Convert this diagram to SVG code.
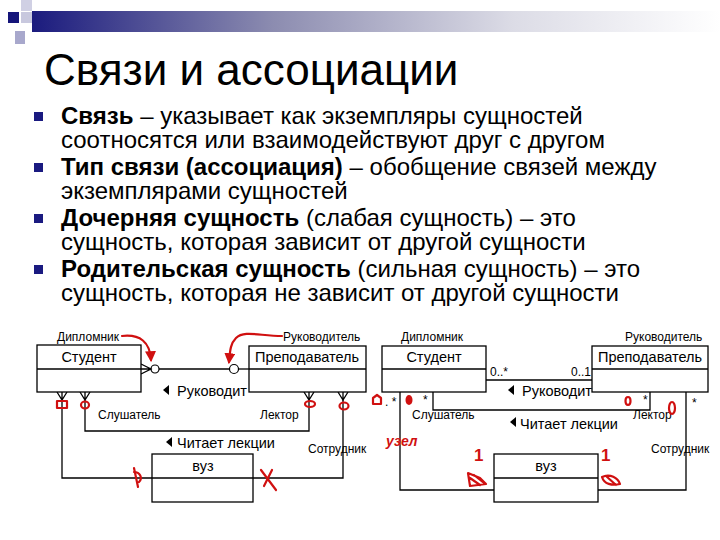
<svg xmlns="http://www.w3.org/2000/svg" width="720" height="540" viewBox="0 0 720 540">
<defs>
<linearGradient id="bar" x1="0" y1="0" x2="1" y2="0">
<stop offset="0" stop-color="#1b1b7e"/>
<stop offset="0.35" stop-color="#8c8cb0"/>
<stop offset="0.7" stop-color="#dcdce6"/>
<stop offset="1" stop-color="#ffffff"/>
</linearGradient>
<marker id="ra" viewBox="0 0 10 10" refX="8" refY="5" markerWidth="5" markerHeight="5" orient="auto"><path d="M0,0 L10,5 L0,10 z" fill="#d01010"/></marker>
</defs>
<style>
.t{font-family:"Liberation Sans",Arial,sans-serif;fill:#000}
.title{font-size:44px}
.b{font-size:24px}
.bb{font-weight:bold}
.n{font-size:14.5px}
.s{font-size:12px}
.box{fill:#fff;stroke:#000;stroke-width:1.3}
.ln{fill:none;stroke:#000;stroke-width:1.3}
.red{fill:none;stroke:#d01010;stroke-width:2.2;stroke-linecap:round;stroke-linejoin:round}
.rt{font-family:"Liberation Sans",Arial,sans-serif;fill:#d01010;font-weight:bold}
</style>
<rect width="720" height="540" fill="#fff"/>
<g id="decor">
<rect x="32" y="11" width="688" height="21" fill="url(#bar)"/>
<rect x="21" y="0" width="11" height="11" fill="#d0d0e4"/>
<rect x="8" y="12" width="11" height="11" fill="#15157a"/>
<rect x="21" y="12" width="11" height="11" fill="#c8c8de"/>
<rect x="15" y="31" width="10" height="13" fill="#a8a8cc"/>
</g>
<text class="t title" x="44" y="85">Связи и ассоциации</text>
<g id="bullets">
<rect x="34" y="112" width="9" height="9" fill="#1a1a80"/>
<rect x="34" y="163" width="9" height="9" fill="#1a1a80"/>
<rect x="34" y="214" width="9" height="9" fill="#1a1a80"/>
<rect x="34" y="265" width="9" height="9" fill="#1a1a80"/>
<text class="t b" x="61" y="124"><tspan class="bb">Связь</tspan> – указывает как экземпляры сущностей</text>
<text class="t b" x="61" y="148">соотносятся или взаимодействуют друг с другом</text>
<text class="t b" x="61" y="175"><tspan class="bb">Тип связи (ассоциация)</tspan> – обобщение связей между</text>
<text class="t b" x="61" y="199">экземплярами сущностей</text>
<text class="t b" x="61" y="226"><tspan class="bb">Дочерняя сущность</tspan> (слабая сущность) – это</text>
<text class="t b" x="61" y="250">сущность, которая зависит от другой сущности</text>
<text class="t b" x="61" y="277"><tspan class="bb">Родительская сущность</tspan> (сильная сущность) – это</text>
<text class="t b" x="61" y="301">сущность, которая не зависит от другой сущности</text>
</g>
<g id="left-connectors">
<path class="ln" d="M159,369 H229"/>
<path class="ln" d="M238,369 H249"/>
<circle cx="155" cy="369" r="4" fill="#fff" stroke="#000" stroke-width="1.2"/>
<circle cx="234" cy="369" r="4.5" fill="#fff" stroke="#000" stroke-width="1.2"/>
<path class="ln" d="M141,364 L151,369 L141,374 M141,369 H151"/>
<path class="ln" d="M62,400 V478 H152"/>
<path class="ln" d="M57,392 L62,400 L67,392 M62,392 V400"/>
<path class="ln" d="M85,400 V431 H309 V400"/>
<path class="ln" d="M80,392 L85,400 L90,392 M85,392 V400"/>
<path class="ln" d="M304,392 L309,400 L314,392 M309,392 V400"/>
<path class="ln" d="M343,400 V478 H253"/>
<path class="ln" d="M338,392 L343,400 L348,392 M343,392 V400"/>
<path d="M163,390 L169,385 V395 z" fill="#000"/>
<path d="M166,442 L172,437 V447 z" fill="#000"/>
</g>
<g id="l-student"><rect class="box" x="37" y="345" width="104" height="47"/><path class="ln" d="M37,369 H141"/><text class="t n" x="89" y="362" text-anchor="middle">Студент</text></g>
<g id="l-teacher"><rect class="box" x="249" y="346" width="117" height="46"/><path class="ln" d="M249,369 H366"/><text class="t n" x="307" y="362" text-anchor="middle">Преподаватель</text></g>
<g id="l-vuz"><rect class="box" x="152" y="454" width="101" height="48"/><path class="ln" d="M152,478 H253"/><text class="t n" x="203" y="471" text-anchor="middle">вуз</text></g>
<g id="left-labels">
<text class="t s" x="57" y="341">Дипломник</text>
<text class="t s" x="283" y="341">Руководитель</text>
<text class="t n" x="177" y="396">Руководит</text>
<text class="t s" x="98" y="419">Слушатель</text>
<text class="t s" x="260" y="419">Лектор</text>
<text class="t n" x="177" y="448">Читает лекции</text>
<text class="t s" x="308" y="453">Сотрудник</text>
</g>
<g id="left-red">
<path class="red" d="M122,336 C140,334 150,342 151,360" marker-end="url(#ra)"/>
<path class="red" d="M282,336 C260,336 244,330 236,338 C230,344 230,352 229,362" marker-end="url(#ra)"/>
<rect class="red" x="57" y="401" width="10" height="7"/>
<ellipse class="red" cx="85" cy="405" rx="4" ry="3.5"/>
<ellipse class="red" cx="310" cy="404" rx="5" ry="3"/>
<ellipse class="red" cx="344" cy="406" rx="4.5" ry="3.5"/>
<path class="red" d="M134,468 L138,487 M134,472 C140,472 143,478 139,482"/>
<path class="red" d="M261,470 L276,490 M272,470 L264,486"/>
</g>
<g id="right-connectors">
<path class="ln" d="M486,380 H592"/>
<path class="ln" d="M433,392 V410 H650 V392"/>
<path class="ln" d="M400,392 V490 H494"/>
<path class="ln" d="M598,490 H686 V392"/>
<path d="M508,390 L514,385 V395 z" fill="#000"/>
<path d="M510,422 L516,417 V427 z" fill="#000"/>
</g>
<g id="r-student"><rect class="box" x="382" y="346" width="104" height="46"/><path class="ln" d="M382,369 H486"/><text class="t n" x="434" y="362" text-anchor="middle">Студент</text></g>
<g id="r-teacher"><rect class="box" x="592" y="346" width="116" height="46"/><path class="ln" d="M592,369 H708"/><text class="t n" x="650" y="362" text-anchor="middle">Преподаватель</text></g>
<g id="r-vuz"><rect class="box" x="494" y="454" width="104" height="48"/><path class="ln" d="M494,478 H598"/><text class="t n" x="546" y="471" text-anchor="middle">вуз</text></g>
<g id="right-labels">
<text class="t s" x="401" y="341">Дипломник</text>
<text class="t s" x="625" y="341">Руководитель</text>
<text class="t s" x="490" y="376">0..*</text>
<text class="t s" x="571" y="376">0..1</text>
<text class="t n" x="522" y="396">Руководит</text>
<text class="t s" x="385" y="406">. *</text>
<text class="t s" x="423" y="404">*</text>
<text class="t s" x="643" y="404">*</text>
<text class="t s" x="692" y="407">*</text>
<text class="t s" x="412" y="419">Слушатель</text>
<text class="t s" x="633" y="419">Лектор</text>
<text class="t n" x="520" y="429">Читает лекции</text>
<text class="t s" x="651" y="453">Сотрудник</text>
</g>
<g id="right-red">
<path class="red" d="M373,404 V398 L377,395 L381,398 V404 z"/>
<ellipse cx="409" cy="400" rx="3.5" ry="5" fill="#d01010"/>
<ellipse class="red" cx="628" cy="401" rx="2.5" ry="4"/>
<ellipse class="red" cx="672" cy="408" rx="3" ry="6"/>
<text class="rt" x="386" y="446" font-size="14" font-style="italic">узел</text>
<text class="rt" x="474" y="461" font-size="17">1</text>
<text class="rt" x="601" y="461" font-size="17">1</text>
<path class="red" d="M468,473 L480,478 L486,484 L470,486 Z M470,478 L480,485 M474,475 L484,483"/>
<path class="red" d="M602,477 C610,473 618,478 620,484 C612,486 604,484 602,477 Z M606,476 L616,485"/>
</g>
</svg>
